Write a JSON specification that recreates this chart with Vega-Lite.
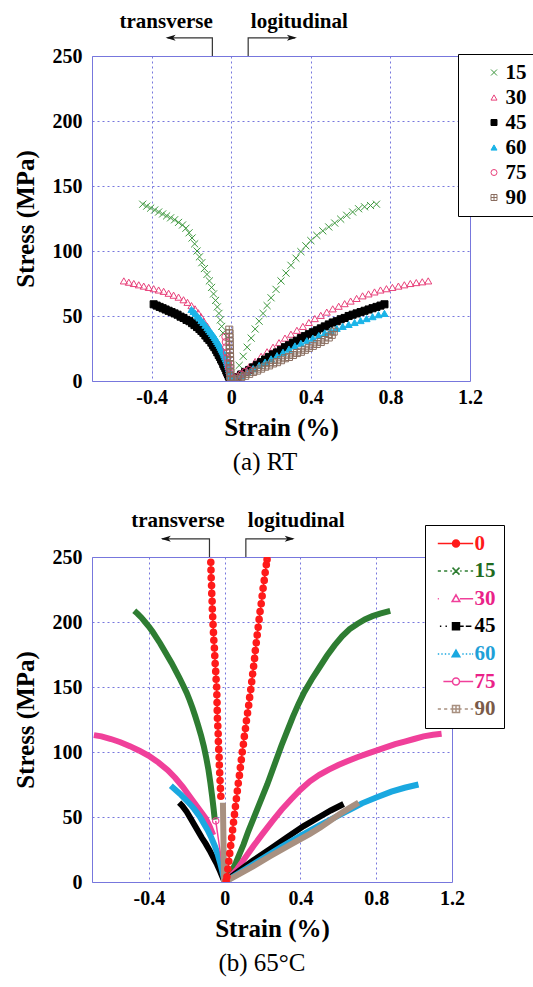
{
  "$schema": "https://vega.github.io/schema/vega-lite/v6.json",
  "background": "white",
  "padding": {"left": 12, "top": 10, "right": 0, "bottom": 0},
  "spacing": 33,
  "config": {
    "font": "Liberation Serif",
    "view": {"stroke": "#7777dd", "strokeWidth": 1},
    "axis": {
      "labelFont": "Liberation Serif", "labelFontWeight": "bold", "labelFontSize": 20, "labelColor": "black",
      "titleFont": "Liberation Serif", "titleFontWeight": "bold", "titleFontSize": 25, "titleColor": "black",
      "domain": false, "ticks": false, "grid": true, "gridColor": "#7777dd", "gridDash": [2, 3], "gridWidth": 1, "gridOpacity": 1,
      "labelFlush": false, "labelOverlap": false
    },
    "title": {"font": "Liberation Serif", "fontWeight": "normal", "fontSize": 25, "color": "black"}
  },
  "datasets": {
    "rt": [
      {"s":"15","b":"t","x":-0.445,"y":136},{"s":"15","b":"t","x":-0.425,"y":134.5},{"s":"15","b":"t","x":-0.405,"y":133},{"s":"15","b":"t","x":-0.385,"y":131.5},{"s":"15","b":"t","x":-0.365,"y":130},{"s":"15","b":"t","x":-0.345,"y":128.5},{"s":"15","b":"t","x":-0.325,"y":127},{"s":"15","b":"t","x":-0.305,"y":125.5},{"s":"15","b":"t","x":-0.285,"y":124},{"s":"15","b":"t","x":-0.265,"y":122},{"s":"15","b":"t","x":-0.245,"y":120},{"s":"15","b":"t","x":-0.228,"y":117.5},{"s":"15","b":"t","x":-0.212,"y":114},{"s":"15","b":"t","x":-0.197,"y":110},{"s":"15","b":"t","x":-0.184,"y":105.5},{"s":"15","b":"t","x":-0.172,"y":100},{"s":"15","b":"t","x":-0.16,"y":95.5},{"s":"15","b":"t","x":-0.148,"y":91},{"s":"15","b":"t","x":-0.135,"y":86.5},{"s":"15","b":"t","x":-0.122,"y":82},{"s":"15","b":"t","x":-0.11,"y":77},{"s":"15","b":"t","x":-0.099,"y":72},{"s":"15","b":"t","x":-0.089,"y":67},{"s":"15","b":"t","x":-0.079,"y":62},{"s":"15","b":"t","x":-0.07,"y":57},{"s":"15","b":"t","x":-0.062,"y":52},{"s":"15","b":"t","x":-0.055,"y":47},{"s":"15","b":"t","x":-0.048,"y":42},{"s":"15","b":"t","x":-0.042,"y":37},
      {"s":"15","b":"l","x":0.02,"y":5},{"s":"15","b":"l","x":0.04,"y":12},{"s":"15","b":"l","x":0.06,"y":19},{"s":"15","b":"l","x":0.08,"y":26},{"s":"15","b":"l","x":0.1,"y":33},{"s":"15","b":"l","x":0.12,"y":40},{"s":"15","b":"l","x":0.14,"y":46},{"s":"15","b":"l","x":0.16,"y":52},{"s":"15","b":"l","x":0.18,"y":58},{"s":"15","b":"l","x":0.2,"y":64},{"s":"15","b":"l","x":0.225,"y":70.5},{"s":"15","b":"l","x":0.25,"y":77},{"s":"15","b":"l","x":0.275,"y":83},{"s":"15","b":"l","x":0.3,"y":89},{"s":"15","b":"l","x":0.325,"y":94.5},{"s":"15","b":"l","x":0.35,"y":99.5},{"s":"15","b":"l","x":0.375,"y":104},{"s":"15","b":"l","x":0.4,"y":108},{"s":"15","b":"l","x":0.43,"y":112},{"s":"15","b":"l","x":0.46,"y":115.5},{"s":"15","b":"l","x":0.49,"y":118.5},{"s":"15","b":"l","x":0.52,"y":121.5},{"s":"15","b":"l","x":0.55,"y":124.5},{"s":"15","b":"l","x":0.58,"y":127.5},{"s":"15","b":"l","x":0.61,"y":130},{"s":"15","b":"l","x":0.64,"y":132.5},{"s":"15","b":"l","x":0.67,"y":134},{"s":"15","b":"l","x":0.7,"y":135},{"s":"15","b":"l","x":0.73,"y":136},
      {"s":"30","b":"t","x":-0.54,"y":77},{"s":"30","b":"t","x":-0.515,"y":76},{"s":"30","b":"t","x":-0.49,"y":75},{"s":"30","b":"t","x":-0.465,"y":74},{"s":"30","b":"t","x":-0.44,"y":73},{"s":"30","b":"t","x":-0.415,"y":72},{"s":"30","b":"t","x":-0.39,"y":71},{"s":"30","b":"t","x":-0.365,"y":70},{"s":"30","b":"t","x":-0.34,"y":69},{"s":"30","b":"t","x":-0.315,"y":67.5},{"s":"30","b":"t","x":-0.29,"y":66},{"s":"30","b":"t","x":-0.265,"y":64.5},{"s":"30","b":"t","x":-0.24,"y":62.5},{"s":"30","b":"t","x":-0.22,"y":60.5},{"s":"30","b":"t","x":-0.2,"y":58},{"s":"30","b":"t","x":-0.182,"y":55.5},{"s":"30","b":"t","x":-0.166,"y":52.5},{"s":"30","b":"t","x":-0.152,"y":49.5},{"s":"30","b":"t","x":-0.138,"y":46},{"s":"30","b":"t","x":-0.12,"y":42},{"s":"30","b":"t","x":-0.1,"y":36},{"s":"30","b":"t","x":-0.08,"y":29},{"s":"30","b":"t","x":-0.06,"y":22},{"s":"30","b":"t","x":-0.04,"y":14},{"s":"30","b":"t","x":-0.02,"y":6},
      {"s":"30","b":"l","x":0.03,"y":3},{"s":"30","b":"l","x":0.06,"y":7},{"s":"30","b":"l","x":0.09,"y":11},{"s":"30","b":"l","x":0.12,"y":15},{"s":"30","b":"l","x":0.15,"y":19},{"s":"30","b":"l","x":0.18,"y":22.5},{"s":"30","b":"l","x":0.21,"y":26},{"s":"30","b":"l","x":0.24,"y":29.5},{"s":"30","b":"l","x":0.27,"y":33},{"s":"30","b":"l","x":0.3,"y":36},{"s":"30","b":"l","x":0.33,"y":39},{"s":"30","b":"l","x":0.36,"y":42},{"s":"30","b":"l","x":0.39,"y":45},{"s":"30","b":"l","x":0.42,"y":48},{"s":"30","b":"l","x":0.45,"y":50.5},{"s":"30","b":"l","x":0.48,"y":53},{"s":"30","b":"l","x":0.51,"y":55.5},{"s":"30","b":"l","x":0.54,"y":57.5},{"s":"30","b":"l","x":0.57,"y":59.5},{"s":"30","b":"l","x":0.6,"y":61.5},{"s":"30","b":"l","x":0.63,"y":63.5},{"s":"30","b":"l","x":0.66,"y":65.5},{"s":"30","b":"l","x":0.69,"y":67},{"s":"30","b":"l","x":0.72,"y":68.5},{"s":"30","b":"l","x":0.75,"y":70},{"s":"30","b":"l","x":0.78,"y":71},{"s":"30","b":"l","x":0.81,"y":72},{"s":"30","b":"l","x":0.84,"y":73},{"s":"30","b":"l","x":0.87,"y":74},{"s":"30","b":"l","x":0.9,"y":75},{"s":"30","b":"l","x":0.93,"y":75.7},{"s":"30","b":"l","x":0.96,"y":76.3},{"s":"30","b":"l","x":0.99,"y":77},
      {"s":"45","b":"t","x":-0.39,"y":59},{"s":"45","b":"t","x":-0.375,"y":58},{"s":"45","b":"t","x":-0.36,"y":57},{"s":"45","b":"t","x":-0.345,"y":56},{"s":"45","b":"t","x":-0.33,"y":55},{"s":"45","b":"t","x":-0.315,"y":54},{"s":"45","b":"t","x":-0.3,"y":53},{"s":"45","b":"t","x":-0.285,"y":52},{"s":"45","b":"t","x":-0.27,"y":51},{"s":"45","b":"t","x":-0.255,"y":49.5},{"s":"45","b":"t","x":-0.24,"y":48.5},{"s":"45","b":"t","x":-0.225,"y":47},{"s":"45","b":"t","x":-0.21,"y":46},{"s":"45","b":"t","x":-0.197,"y":44.5},{"s":"45","b":"t","x":-0.185,"y":43},{"s":"45","b":"t","x":-0.172,"y":41.5},{"s":"45","b":"t","x":-0.16,"y":40},{"s":"45","b":"t","x":-0.15,"y":38.5},{"s":"45","b":"t","x":-0.14,"y":37},{"s":"45","b":"t","x":-0.13,"y":35},{"s":"45","b":"t","x":-0.12,"y":33},{"s":"45","b":"t","x":-0.11,"y":31.5},{"s":"45","b":"t","x":-0.1,"y":29.5},{"s":"45","b":"t","x":-0.092,"y":27.5},{"s":"45","b":"t","x":-0.085,"y":26},{"s":"45","b":"t","x":-0.077,"y":24},{"s":"45","b":"t","x":-0.07,"y":22},{"s":"45","b":"t","x":-0.063,"y":20},{"s":"45","b":"t","x":-0.057,"y":18.5},{"s":"45","b":"t","x":-0.051,"y":16.5},{"s":"45","b":"t","x":-0.045,"y":15},{"s":"45","b":"t","x":-0.04,"y":13},{"s":"45","b":"t","x":-0.035,"y":11.5},{"s":"45","b":"t","x":-0.03,"y":10},{"s":"45","b":"t","x":-0.025,"y":8},{"s":"45","b":"t","x":-0.02,"y":6.5},{"s":"45","b":"t","x":-0.016,"y":5},{"s":"45","b":"t","x":-0.012,"y":3.5},{"s":"45","b":"t","x":-0.008,"y":2},{"s":"45","b":"t","x":-0.004,"y":1},
      {"s":"45","b":"l","x":0.01,"y":1},{"s":"45","b":"l","x":0.03,"y":3},{"s":"45","b":"l","x":0.05,"y":5},{"s":"45","b":"l","x":0.07,"y":7},{"s":"45","b":"l","x":0.09,"y":8.5},{"s":"45","b":"l","x":0.11,"y":10.5},{"s":"45","b":"l","x":0.13,"y":12.5},{"s":"45","b":"l","x":0.15,"y":14.5},{"s":"45","b":"l","x":0.17,"y":16.5},{"s":"45","b":"l","x":0.19,"y":18.5},{"s":"45","b":"l","x":0.21,"y":20.5},{"s":"45","b":"l","x":0.23,"y":22},{"s":"45","b":"l","x":0.25,"y":24},{"s":"45","b":"l","x":0.27,"y":26},{"s":"45","b":"l","x":0.29,"y":27.5},{"s":"45","b":"l","x":0.31,"y":29.5},{"s":"45","b":"l","x":0.33,"y":31},{"s":"45","b":"l","x":0.35,"y":33},{"s":"45","b":"l","x":0.37,"y":34.5},{"s":"45","b":"l","x":0.39,"y":36},{"s":"45","b":"l","x":0.41,"y":37.5},{"s":"45","b":"l","x":0.43,"y":39},{"s":"45","b":"l","x":0.45,"y":40.5},{"s":"45","b":"l","x":0.47,"y":42},{"s":"45","b":"l","x":0.49,"y":43.5},{"s":"45","b":"l","x":0.51,"y":45},{"s":"45","b":"l","x":0.53,"y":46},{"s":"45","b":"l","x":0.55,"y":47.5},{"s":"45","b":"l","x":0.57,"y":48.5},{"s":"45","b":"l","x":0.59,"y":50},{"s":"45","b":"l","x":0.61,"y":51},{"s":"45","b":"l","x":0.63,"y":52},{"s":"45","b":"l","x":0.65,"y":53},{"s":"45","b":"l","x":0.67,"y":54},{"s":"45","b":"l","x":0.69,"y":55},{"s":"45","b":"l","x":0.71,"y":56},{"s":"45","b":"l","x":0.73,"y":57},{"s":"45","b":"l","x":0.75,"y":58},{"s":"45","b":"l","x":0.77,"y":59},
      {"s":"60","b":"t","x":-0.2,"y":55},{"s":"60","b":"t","x":-0.19,"y":53.5},{"s":"60","b":"t","x":-0.18,"y":52},{"s":"60","b":"t","x":-0.17,"y":50},{"s":"60","b":"t","x":-0.16,"y":48.5},{"s":"60","b":"t","x":-0.15,"y":46.5},{"s":"60","b":"t","x":-0.14,"y":45},{"s":"60","b":"t","x":-0.13,"y":43},{"s":"60","b":"t","x":-0.12,"y":41},{"s":"60","b":"t","x":-0.112,"y":39.5},{"s":"60","b":"t","x":-0.105,"y":38},{"s":"60","b":"t","x":-0.097,"y":36.5},{"s":"60","b":"t","x":-0.09,"y":35},{"s":"60","b":"t","x":-0.083,"y":33.5},{"s":"60","b":"t","x":-0.077,"y":32},{"s":"60","b":"t","x":-0.071,"y":30.5},{"s":"60","b":"t","x":-0.065,"y":29},{"s":"60","b":"t","x":-0.059,"y":27.5},{"s":"60","b":"t","x":-0.054,"y":26},{"s":"60","b":"t","x":-0.049,"y":24.5},{"s":"60","b":"t","x":-0.044,"y":23},{"s":"60","b":"t","x":-0.039,"y":21.5},{"s":"60","b":"t","x":-0.035,"y":20},{"s":"60","b":"t","x":-0.031,"y":18.5},{"s":"60","b":"t","x":-0.027,"y":17},{"s":"60","b":"t","x":-0.023,"y":15.5},{"s":"60","b":"t","x":-0.02,"y":14},{"s":"60","b":"t","x":-0.017,"y":12.5},{"s":"60","b":"t","x":-0.014,"y":11},{"s":"60","b":"t","x":-0.011,"y":9.5},{"s":"60","b":"t","x":-0.009,"y":8},{"s":"60","b":"t","x":-0.007,"y":6.5},{"s":"60","b":"t","x":-0.005,"y":5},{"s":"60","b":"t","x":-0.003,"y":3.5},{"s":"60","b":"t","x":-0.002,"y":2},
      {"s":"60","b":"l","x":0.02,"y":2},{"s":"60","b":"l","x":0.05,"y":4.5},{"s":"60","b":"l","x":0.08,"y":7},{"s":"60","b":"l","x":0.11,"y":9.5},{"s":"60","b":"l","x":0.14,"y":12},{"s":"60","b":"l","x":0.17,"y":14.5},{"s":"60","b":"l","x":0.2,"y":17},{"s":"60","b":"l","x":0.23,"y":19.5},{"s":"60","b":"l","x":0.26,"y":22},{"s":"60","b":"l","x":0.29,"y":24.5},{"s":"60","b":"l","x":0.32,"y":27},{"s":"60","b":"l","x":0.35,"y":29},{"s":"60","b":"l","x":0.38,"y":31},{"s":"60","b":"l","x":0.41,"y":33},{"s":"60","b":"l","x":0.44,"y":35},{"s":"60","b":"l","x":0.47,"y":37},{"s":"60","b":"l","x":0.5,"y":39},{"s":"60","b":"l","x":0.53,"y":40.5},{"s":"60","b":"l","x":0.56,"y":42},{"s":"60","b":"l","x":0.59,"y":43.5},{"s":"60","b":"l","x":0.62,"y":45},{"s":"60","b":"l","x":0.65,"y":46.5},{"s":"60","b":"l","x":0.68,"y":48},{"s":"60","b":"l","x":0.71,"y":49.5},{"s":"60","b":"l","x":0.74,"y":51},{"s":"60","b":"l","x":0.77,"y":52},
      {"s":"75","b":"t","x":-0.004,"y":2},{"s":"75","b":"t","x":-0.008,"y":6},{"s":"75","b":"t","x":-0.012,"y":10},{"s":"75","b":"t","x":-0.016,"y":14},{"s":"75","b":"t","x":-0.02,"y":18},{"s":"75","b":"t","x":-0.023,"y":22},{"s":"75","b":"t","x":-0.026,"y":26},{"s":"75","b":"t","x":-0.028,"y":30},{"s":"75","b":"t","x":-0.03,"y":34},
      {"s":"75","b":"l","x":0.01,"y":1},{"s":"75","b":"l","x":0.03,"y":3},{"s":"75","b":"l","x":0.05,"y":5},{"s":"75","b":"l","x":0.07,"y":7},{"s":"75","b":"l","x":0.09,"y":8.5},
      {"s":"90","b":"t","x":-0.003,"y":0.5},{"s":"90","b":"t","x":-0.004,"y":3.5},{"s":"90","b":"t","x":-0.004,"y":6.5},{"s":"90","b":"t","x":-0.005,"y":9.5},{"s":"90","b":"t","x":-0.005,"y":12.5},{"s":"90","b":"t","x":-0.006,"y":15.5},{"s":"90","b":"t","x":-0.006,"y":18.5},{"s":"90","b":"t","x":-0.007,"y":21.5},{"s":"90","b":"t","x":-0.007,"y":24.5},{"s":"90","b":"t","x":-0.008,"y":27.5},{"s":"90","b":"t","x":-0.008,"y":30.5},{"s":"90","b":"t","x":-0.009,"y":33.5},{"s":"90","b":"t","x":-0.009,"y":36.5},{"s":"90","b":"t","x":-0.01,"y":39.5},
      {"s":"90","b":"l","x":0.01,"y":0.5},{"s":"90","b":"l","x":0.03,"y":1.5},{"s":"90","b":"l","x":0.05,"y":3},{"s":"90","b":"l","x":0.07,"y":4},{"s":"90","b":"l","x":0.09,"y":5.5},{"s":"90","b":"l","x":0.11,"y":7},{"s":"90","b":"l","x":0.13,"y":8},{"s":"90","b":"l","x":0.15,"y":9.5},{"s":"90","b":"l","x":0.17,"y":11},{"s":"90","b":"l","x":0.19,"y":12},{"s":"90","b":"l","x":0.21,"y":13.5},{"s":"90","b":"l","x":0.23,"y":14.5},{"s":"90","b":"l","x":0.25,"y":16},{"s":"90","b":"l","x":0.27,"y":17.5},{"s":"90","b":"l","x":0.29,"y":18.5},{"s":"90","b":"l","x":0.31,"y":20},{"s":"90","b":"l","x":0.33,"y":21.5},{"s":"90","b":"l","x":0.35,"y":22.5},{"s":"90","b":"l","x":0.37,"y":24},{"s":"90","b":"l","x":0.39,"y":25.5},{"s":"90","b":"l","x":0.41,"y":27},{"s":"90","b":"l","x":0.43,"y":28.5},{"s":"90","b":"l","x":0.45,"y":30},{"s":"90","b":"l","x":0.47,"y":31.5},{"s":"90","b":"l","x":0.49,"y":33.5},{"s":"90","b":"l","x":0.505,"y":35.5},{"s":"90","b":"l","x":0.515,"y":38}
    ],
    "hot": [
      {"s":"0","b":"t","x":-0.02,"y":66},{"s":"0","b":"t","x":-0.022,"y":72},{"s":"0","b":"t","x":-0.024,"y":78},{"s":"0","b":"t","x":-0.026,"y":84},{"s":"0","b":"t","x":-0.028,"y":90},{"s":"0","b":"t","x":-0.029,"y":96},{"s":"0","b":"t","x":-0.031,"y":102},{"s":"0","b":"t","x":-0.033,"y":108},{"s":"0","b":"t","x":-0.034,"y":114},{"s":"0","b":"t","x":-0.036,"y":120},{"s":"0","b":"t","x":-0.038,"y":126},{"s":"0","b":"t","x":-0.039,"y":132},{"s":"0","b":"t","x":-0.04,"y":138},{"s":"0","b":"t","x":-0.041,"y":144},{"s":"0","b":"t","x":-0.042,"y":150},{"s":"0","b":"t","x":-0.045,"y":156},{"s":"0","b":"t","x":-0.047,"y":162},{"s":"0","b":"t","x":-0.05,"y":168},{"s":"0","b":"t","x":-0.052,"y":174},{"s":"0","b":"t","x":-0.054,"y":180},{"s":"0","b":"t","x":-0.057,"y":186},{"s":"0","b":"t","x":-0.059,"y":192},{"s":"0","b":"t","x":-0.061,"y":198},{"s":"0","b":"t","x":-0.063,"y":204},{"s":"0","b":"t","x":-0.065,"y":210},{"s":"0","b":"t","x":-0.066,"y":216},{"s":"0","b":"t","x":-0.068,"y":222},{"s":"0","b":"t","x":-0.069,"y":228},{"s":"0","b":"t","x":-0.071,"y":234},{"s":"0","b":"t","x":-0.072,"y":240},{"s":"0","b":"t","x":-0.073,"y":246},
      {"s":"0","b":"l","x":0.008,"y":1},{"s":"0","b":"l","x":0.012,"y":4},{"s":"0","b":"l","x":0.017,"y":10},{"s":"0","b":"l","x":0.022,"y":16},{"s":"0","b":"l","x":0.027,"y":22},{"s":"0","b":"l","x":0.032,"y":28},{"s":"0","b":"l","x":0.037,"y":34},{"s":"0","b":"l","x":0.042,"y":40},{"s":"0","b":"l","x":0.047,"y":46},{"s":"0","b":"l","x":0.052,"y":52},{"s":"0","b":"l","x":0.057,"y":58},{"s":"0","b":"l","x":0.062,"y":64},{"s":"0","b":"l","x":0.067,"y":70},{"s":"0","b":"l","x":0.072,"y":76},{"s":"0","b":"l","x":0.078,"y":82},{"s":"0","b":"l","x":0.083,"y":88},{"s":"0","b":"l","x":0.088,"y":94},{"s":"0","b":"l","x":0.093,"y":100},{"s":"0","b":"l","x":0.099,"y":106},{"s":"0","b":"l","x":0.104,"y":112},{"s":"0","b":"l","x":0.11,"y":118},{"s":"0","b":"l","x":0.115,"y":124},{"s":"0","b":"l","x":0.121,"y":130},{"s":"0","b":"l","x":0.127,"y":136},{"s":"0","b":"l","x":0.132,"y":142},{"s":"0","b":"l","x":0.138,"y":148},{"s":"0","b":"l","x":0.143,"y":154},{"s":"0","b":"l","x":0.148,"y":160},{"s":"0","b":"l","x":0.153,"y":166},{"s":"0","b":"l","x":0.158,"y":172},{"s":"0","b":"l","x":0.162,"y":178},{"s":"0","b":"l","x":0.167,"y":184},{"s":"0","b":"l","x":0.172,"y":190},{"s":"0","b":"l","x":0.177,"y":196},{"s":"0","b":"l","x":0.182,"y":202},{"s":"0","b":"l","x":0.187,"y":208},{"s":"0","b":"l","x":0.193,"y":214},{"s":"0","b":"l","x":0.198,"y":220},{"s":"0","b":"l","x":0.203,"y":226},{"s":"0","b":"l","x":0.209,"y":232},{"s":"0","b":"l","x":0.214,"y":238},{"s":"0","b":"l","x":0.22,"y":244},{"s":"0","b":"l","x":0.224,"y":248},
      {"s":"15","b":"t","x":-0.477,"y":208.7},{"s":"15","b":"t","x":-0.46,"y":206.5},{"s":"15","b":"t","x":-0.44,"y":203.5},{"s":"15","b":"t","x":-0.42,"y":200},{"s":"15","b":"t","x":-0.4,"y":196.5},{"s":"15","b":"t","x":-0.38,"y":192.5},{"s":"15","b":"t","x":-0.36,"y":188},{"s":"15","b":"t","x":-0.34,"y":183.5},{"s":"15","b":"t","x":-0.32,"y":178.5},{"s":"15","b":"t","x":-0.3,"y":173.5},{"s":"15","b":"t","x":-0.28,"y":168.5},{"s":"15","b":"t","x":-0.26,"y":163},{"s":"15","b":"t","x":-0.24,"y":157.5},{"s":"15","b":"t","x":-0.22,"y":151.5},{"s":"15","b":"t","x":-0.2,"y":145.5},{"s":"15","b":"t","x":-0.185,"y":140},{"s":"15","b":"t","x":-0.17,"y":134},{"s":"15","b":"t","x":-0.155,"y":127.5},{"s":"15","b":"t","x":-0.14,"y":120.5},{"s":"15","b":"t","x":-0.125,"y":113},{"s":"15","b":"t","x":-0.11,"y":104.5},{"s":"15","b":"t","x":-0.097,"y":95.5},{"s":"15","b":"t","x":-0.085,"y":86},{"s":"15","b":"t","x":-0.075,"y":76},{"s":"15","b":"t","x":-0.066,"y":66},{"s":"15","b":"t","x":-0.058,"y":56},{"s":"15","b":"t","x":-0.052,"y":48},
      {"s":"15","b":"l","x":0.005,"y":0},{"s":"15","b":"l","x":0.02,"y":4},{"s":"15","b":"l","x":0.04,"y":9},{"s":"15","b":"l","x":0.06,"y":15},{"s":"15","b":"l","x":0.08,"y":22},{"s":"15","b":"l","x":0.1,"y":29},{"s":"15","b":"l","x":0.125,"y":39},{"s":"15","b":"l","x":0.15,"y":48},{"s":"15","b":"l","x":0.175,"y":57},{"s":"15","b":"l","x":0.2,"y":66},{"s":"15","b":"l","x":0.225,"y":75},{"s":"15","b":"l","x":0.25,"y":85},{"s":"15","b":"l","x":0.275,"y":95},{"s":"15","b":"l","x":0.3,"y":105},{"s":"15","b":"l","x":0.33,"y":116},{"s":"15","b":"l","x":0.36,"y":127},{"s":"15","b":"l","x":0.39,"y":137},{"s":"15","b":"l","x":0.42,"y":146},{"s":"15","b":"l","x":0.46,"y":156},{"s":"15","b":"l","x":0.5,"y":165},{"s":"15","b":"l","x":0.54,"y":174},{"s":"15","b":"l","x":0.58,"y":182},{"s":"15","b":"l","x":0.62,"y":189},{"s":"15","b":"l","x":0.66,"y":194.5},{"s":"15","b":"l","x":0.7,"y":198.5},{"s":"15","b":"l","x":0.74,"y":202},{"s":"15","b":"l","x":0.78,"y":204.5},{"s":"15","b":"l","x":0.82,"y":206.5},{"s":"15","b":"l","x":0.874,"y":208.5},
      {"s":"30","b":"t","x":-0.69,"y":113},{"s":"30","b":"t","x":-0.65,"y":112},{"s":"30","b":"t","x":-0.6,"y":110},{"s":"30","b":"t","x":-0.55,"y":107.5},{"s":"30","b":"t","x":-0.5,"y":104.5},{"s":"30","b":"t","x":-0.45,"y":101},{"s":"30","b":"t","x":-0.4,"y":97},{"s":"30","b":"t","x":-0.35,"y":92},{"s":"30","b":"t","x":-0.3,"y":86},{"s":"30","b":"t","x":-0.26,"y":80},{"s":"30","b":"t","x":-0.22,"y":73},{"s":"30","b":"t","x":-0.19,"y":67},{"s":"30","b":"t","x":-0.16,"y":61},{"s":"30","b":"t","x":-0.13,"y":55},{"s":"30","b":"t","x":-0.1,"y":49},{"s":"30","b":"t","x":-0.08,"y":43},{"s":"30","b":"t","x":-0.06,"y":36},
      {"s":"30","b":"l","x":0,"y":0},{"s":"30","b":"l","x":0.03,"y":4},{"s":"30","b":"l","x":0.067,"y":10},{"s":"30","b":"l","x":0.1,"y":17},{"s":"30","b":"l","x":0.154,"y":28},{"s":"30","b":"l","x":0.2,"y":37},{"s":"30","b":"l","x":0.25,"y":46.5},{"s":"30","b":"l","x":0.3,"y":55.5},{"s":"30","b":"l","x":0.35,"y":63.5},{"s":"30","b":"l","x":0.4,"y":71},{"s":"30","b":"l","x":0.45,"y":77.5},{"s":"30","b":"l","x":0.5,"y":82.5},{"s":"30","b":"l","x":0.55,"y":86.5},{"s":"30","b":"l","x":0.6,"y":90},{"s":"30","b":"l","x":0.65,"y":93},{"s":"30","b":"l","x":0.7,"y":96},{"s":"30","b":"l","x":0.75,"y":98.5},{"s":"30","b":"l","x":0.8,"y":101},{"s":"30","b":"l","x":0.85,"y":103.5},{"s":"30","b":"l","x":0.9,"y":106},{"s":"30","b":"l","x":0.95,"y":108},{"s":"30","b":"l","x":1.0,"y":110},{"s":"30","b":"l","x":1.05,"y":112},{"s":"30","b":"l","x":1.1,"y":113.2},{"s":"30","b":"l","x":1.145,"y":114},
      {"s":"45","b":"t","x":-0.24,"y":61},{"s":"45","b":"t","x":-0.223,"y":58.5},{"s":"45","b":"t","x":-0.2,"y":54},{"s":"45","b":"t","x":-0.18,"y":49},{"s":"45","b":"t","x":-0.16,"y":44},{"s":"45","b":"t","x":-0.14,"y":39},{"s":"45","b":"t","x":-0.12,"y":34},{"s":"45","b":"t","x":-0.1,"y":29.5},{"s":"45","b":"t","x":-0.08,"y":24.5},{"s":"45","b":"t","x":-0.06,"y":19},{"s":"45","b":"t","x":-0.04,"y":13.5},{"s":"45","b":"t","x":-0.025,"y":8.5},{"s":"45","b":"t","x":-0.012,"y":4},{"s":"45","b":"t","x":0,"y":0},
      {"s":"45","b":"l","x":0,"y":0},{"s":"45","b":"l","x":0.067,"y":7.5},{"s":"45","b":"l","x":0.15,"y":16.5},{"s":"45","b":"l","x":0.242,"y":25.5},{"s":"45","b":"l","x":0.33,"y":34.5},{"s":"45","b":"l","x":0.417,"y":43},{"s":"45","b":"l","x":0.5,"y":50},{"s":"45","b":"l","x":0.56,"y":55},{"s":"45","b":"l","x":0.628,"y":60},
      {"s":"60","b":"t","x":-0.284,"y":74},{"s":"60","b":"t","x":-0.26,"y":71},{"s":"60","b":"t","x":-0.23,"y":67},{"s":"60","b":"t","x":-0.2,"y":62.5},{"s":"60","b":"t","x":-0.18,"y":59.5},{"s":"60","b":"t","x":-0.16,"y":56},{"s":"60","b":"t","x":-0.13,"y":50},{"s":"60","b":"t","x":-0.11,"y":45},{"s":"60","b":"t","x":-0.09,"y":40},{"s":"60","b":"t","x":-0.07,"y":34},{"s":"60","b":"t","x":-0.05,"y":27},{"s":"60","b":"t","x":-0.038,"y":22},{"s":"60","b":"t","x":-0.025,"y":15.5},{"s":"60","b":"t","x":-0.012,"y":8},{"s":"60","b":"t","x":0,"y":0},
      {"s":"60","b":"l","x":0,"y":0},{"s":"60","b":"l","x":0.1,"y":9},{"s":"60","b":"l","x":0.2,"y":18},{"s":"60","b":"l","x":0.3,"y":27},{"s":"60","b":"l","x":0.4,"y":35.5},{"s":"60","b":"l","x":0.5,"y":43.5},{"s":"60","b":"l","x":0.6,"y":51},{"s":"60","b":"l","x":0.68,"y":57},{"s":"60","b":"l","x":0.725,"y":60.5},{"s":"60","b":"l","x":0.8,"y":65},{"s":"60","b":"l","x":0.88,"y":69.5},{"s":"60","b":"l","x":0.95,"y":72.5},{"s":"60","b":"l","x":1.023,"y":75},
      {"s":"75","b":"t","x":0,"y":0},{"s":"75","b":"t","x":-0.01,"y":10},{"s":"75","b":"t","x":-0.02,"y":20},{"s":"75","b":"t","x":-0.03,"y":30},{"s":"75","b":"t","x":-0.04,"y":40},{"s":"75","b":"t","x":-0.047,"y":47},
      {"s":"75","b":"l","x":0,"y":0},{"s":"75","b":"l","x":0.03,"y":3},{"s":"75","b":"l","x":0.06,"y":6},
      {"s":"90","b":"t","x":-0.003,"y":0},{"s":"90","b":"t","x":-0.004,"y":10},{"s":"90","b":"t","x":-0.005,"y":20},{"s":"90","b":"t","x":-0.006,"y":30},{"s":"90","b":"t","x":-0.007,"y":40},{"s":"90","b":"t","x":-0.008,"y":50},{"s":"90","b":"t","x":-0.009,"y":61},
      {"s":"90","b":"l","x":0,"y":0},{"s":"90","b":"l","x":0.05,"y":4},{"s":"90","b":"l","x":0.15,"y":12},{"s":"90","b":"l","x":0.242,"y":20},{"s":"90","b":"l","x":0.35,"y":29},{"s":"90","b":"l","x":0.45,"y":37},{"s":"90","b":"l","x":0.505,"y":42},{"s":"90","b":"l","x":0.56,"y":47.5},{"s":"90","b":"l","x":0.61,"y":52.5},{"s":"90","b":"l","x":0.66,"y":57},{"s":"90","b":"l","x":0.707,"y":61}
    ],
    "annLinesA": [
      {"id":"t","o":1,"x":-0.095,"y":250},{"id":"t","o":2,"x":-0.095,"y":264},{"id":"t","o":3,"x":-0.32,"y":264},
      {"id":"l","o":1,"x":0.085,"y":250},{"id":"l","o":2,"x":0.085,"y":264},{"id":"l","o":3,"x":0.32,"y":264}
    ],
    "annHeadsA": [{"d":"L","x":-0.33,"y":264},{"d":"R","x":0.33,"y":264}],
    "annTextA": [{"t":"transverse","x":-0.327,"y":276},{"t":"logitudinal","x":0.342,"y":276}],
    "annLinesB": [
      {"id":"t","o":1,"x":-0.08,"y":250},{"id":"t","o":2,"x":-0.08,"y":264},{"id":"t","o":3,"x":-0.33,"y":264},
      {"id":"l","o":1,"x":0.112,"y":250},{"id":"l","o":2,"x":0.112,"y":264},{"id":"l","o":3,"x":0.36,"y":264}
    ],
    "annHeadsB": [{"d":"L","x":-0.337,"y":264},{"d":"R","x":0.37,"y":264}],
    "annTextB": [{"t":"transverse","x":-0.247,"y":278},{"t":"logitudinal","x":0.378,"y":278}]
  },
  "resolve": {"scale": {"color": "independent", "shape": "independent", "fill": "independent"}, "legend": {"color": "independent", "shape": "independent"}},
  "vconcat": [
    {
      "width": 378, "height": 325,
      "title": {"text": "(a) RT", "orient": "bottom", "anchor": "middle", "frame": "group", "offset": 10, "dx": -16},
      "layer": [
        {
          "data": {"name": "rt"},
          "mark": {"type": "point", "filled": false, "size": 50, "strokeWidth": 1, "opacity": 1, "clip": true},
          "encoding": {
            "x": {"field": "x", "type": "quantitative", "scale": {"domain": [-0.7, 1.2], "nice": false, "zero": false},
                  "axis": {"values": [-0.4, 0, 0.4, 0.8, 1.2], "labelExpr": "'' + datum.value", "title": "Strain (%)", "labelPadding": 6, "titlePadding": 8}},
            "y": {"field": "y", "type": "quantitative", "scale": {"domain": [0, 250], "nice": false, "zero": false},
                  "axis": {"values": [0, 50, 100, 150, 200, 250], "title": "Stress (MPa)", "labelPadding": 10, "titlePadding": 14}},
            "color": {"field": "s", "type": "nominal",
                      "scale": {"domain": ["15","30","45","60","75","90"], "range": ["#3c963c","#e8407a","#000000","#1ab4e8","#e8407a","#8a6e60"]},
                      "legend": {"title": null, "orient": "none", "direction": "vertical", "legendX": 366, "legendY": -2,
                                 "padding": 8, "strokeColor": "black", "fillColor": "white",
                                 "symbolSize": 36, "symbolStrokeWidth": 1, "symbolOffset": 17.5, "labelOffset": 1,
                                 "labelFont": "Liberation Serif", "labelFontWeight": "bold", "labelFontSize": 21, "rowPadding": 3,
                                 "encode": {
                                   "labels": {"update": {
                                     "fill": {"signal": "datum.value=='15'?'#2a8a2a':datum.value=='30'?'#ea2270':datum.value=='45'?'#000000':datum.value=='60'?'#22aadd':datum.value=='75'?'#ea2280':'#6b4a3a'"}
                                   }}
                                 }}},
            "shape": {"field": "s", "type": "nominal",
                      "scale": {"domain": ["15","30","45","60","75","90"], "range": ["M-1,-1L1,1M-1,1L1,-1","triangle-up","square","triangle-up","circle","M-1,-1H1V1H-1ZM0,-1V1M-1,0H1"]},
                      "legend": {"title": null, "orient": "none", "direction": "vertical", "legendX": 366, "legendY": -2,
                                 "padding": 8, "strokeColor": "black", "fillColor": "white",
                                 "symbolSize": 36, "symbolStrokeWidth": 1, "symbolOffset": 17.5, "labelOffset": 1,
                                 "labelFont": "Liberation Serif", "labelFontWeight": "bold", "labelFontSize": 21, "rowPadding": 3,
                                 "encode": {
                                   "labels": {"update": {
                                     "fill": {"signal": "datum.value=='15'?'#2a8a2a':datum.value=='30'?'#ea2270':datum.value=='45'?'#000000':datum.value=='60'?'#22aadd':datum.value=='75'?'#ea2280':'#6b4a3a'"}
                                   }}
                                 }}},
            "fill": {"field": "s", "type": "nominal",
                     "scale": {"domain": ["15","30","45","60","75","90"], "range": ["transparent","transparent","#000000","#1ab4e8","transparent","transparent"]},
                     "legend": null}
          }
        },
        {
          "data": {"name": "annLinesA"},
          "mark": {"type": "line", "color": "#333333", "strokeWidth": 1.2, "clip": false},
          "encoding": {
            "x": {"field": "x", "type": "quantitative"},
            "y": {"field": "y", "type": "quantitative"},
            "detail": {"field": "id"},
            "order": {"field": "o", "type": "quantitative"}
          }
        },
        {
          "data": {"name": "annHeadsA"},
          "transform": [{"filter": "datum.d == 'L'"}],
          "mark": {"type": "point", "filled": true, "size": 100, "opacity": 1, "color": "#111111", "shape": "M0,0L2,-0.6L1.5,0L2,0.6Z", "clip": false},
          "encoding": {
            "x": {"field": "x", "type": "quantitative"},
            "y": {"field": "y", "type": "quantitative"}
          }
        },
        {
          "data": {"name": "annHeadsA"},
          "transform": [{"filter": "datum.d == 'R'"}],
          "mark": {"type": "point", "filled": true, "size": 100, "opacity": 1, "color": "#111111", "shape": "M0,0L-2,-0.6L-1.5,0L-2,0.6Z", "clip": false},
          "encoding": {
            "x": {"field": "x", "type": "quantitative"},
            "y": {"field": "y", "type": "quantitative"}
          }
        },
        {
          "data": {"name": "annTextA"},
          "mark": {"type": "text", "font": "Liberation Serif", "fontWeight": "bold", "fontSize": 21, "baseline": "middle", "align": "center", "color": "black", "clip": false},
          "encoding": {
            "x": {"field": "x", "type": "quantitative"},
            "y": {"field": "y", "type": "quantitative"},
            "text": {"field": "t"}
          }
        }
      ]
    },
    {
      "width": 360, "height": 325,
      "title": {"text": "(b) 65°C", "orient": "bottom", "anchor": "middle", "frame": "group", "offset": 10, "dx": -10},
      "layer": [
        {
          "data": {"name": "hot"},
          "transform": [{"filter": {"field": "s", "oneOf": ["15","30","45","60"]}}],
          "mark": {"type": "line", "strokeWidth": 6, "clip": true, "strokeCap": "butt"},
          "encoding": {
            "x": {"field": "x", "type": "quantitative", "scale": {"domain": [-0.7, 1.2], "nice": false, "zero": false},
                  "axis": {"values": [-0.4, 0, 0.4, 0.8, 1.2], "labelExpr": "'' + datum.value", "title": "Strain (%)", "labelPadding": 6, "titlePadding": 8}},
            "y": {"field": "y", "type": "quantitative", "scale": {"domain": [0, 250], "nice": false, "zero": false},
                  "axis": {"values": [0, 50, 100, 150, 200, 250], "title": "Stress (MPa)", "labelPadding": 10, "titlePadding": 14}},
            "color": {"field": "s", "type": "nominal",
                      "scale": {"domain": ["0","15","30","45","60","75","90"], "range": ["#ff1a1a","#2e7d32","#f0409a","#000000","#1aa8e0","#f0409a","#a89080"]},
                      "legend": {"title": null, "orient": "none", "direction": "vertical", "legendX": 333, "legendY": -32,
                                 "padding": 8, "strokeColor": "black", "fillColor": "white",
                                 "symbolSize": 49, "symbolStrokeWidth": 1.5, "symbolOffset": 12.5, "labelOffset": 8,
                                 "symbolFillColor": "white",
                                 "labelFont": "Liberation Serif", "labelFontWeight": "bold", "labelFontSize": 21, "rowPadding": 5.6,
                                 "encode": {
                                   "symbols": {"update": {
                                     "shape": {"signal": "datum.value=='0'?'M-5.2,0H-1M1,0H4.9M1,0A1,1 0 1,1 -1,0A1,1 0 1,1 1,0ZM0.6,0A0.6,0.6 0 1,1 -0.6,0A0.6,0.6 0 1,1 0.6,0ZM0.2,0A0.2,0.2 0 1,1 -0.2,0A0.2,0.2 0 1,1 0.2,0Z':datum.value=='15'?'M-5.2,0H-4.3M-3.4,0H-2.5M-1.6,0H-1.2M1.2,0H1.6M2.5,0H3.4M4.2,0H4.9M-1,-1L1,1M-1,1L1,-1':datum.value=='30'?'M-5.2,0H-4.9M1.1,0H4.9M0,-1.1L1.1,0.8H-1.1Z':datum.value=='45'?'M-4.6,0H-4.2M-3,0H-2.6M1,0H2.2M2.8,0H4.4M-1,-1H1V1H-1ZM-1,-0.6H1M-1,-0.2H1M-1,0.2H1M-1,0.6H1':datum.value=='60'?'M-5.2,0H-4.8M-4.2,0H-3.8M-3.2,0H-2.8M-2.2,0H-1.8M1.8,0H2.2M2.8,0H3.2M3.8,0H4.2M4.6,0H4.9M0,-1.1L1.1,0.8H-1.1ZM-0.8,0.4H0.8M-0.55,0H0.55M-0.3,-0.4H0.3':datum.value=='75'?'M-3.6,0H-1M1,0H4.9M1,0A1,1 0 1,1 -1,0A1,1 0 1,1 1,0Z':'M-5.2,0H-4.3M-3.4,0H-2.5M-1.6,0H-1.2M1.2,0H1.6M2.5,0H3.4M4.2,0H4.9M-1,-1H1V1H-1ZM0,-1V1M-1,0H1'"},
                                     "fill": {"value": "white"},
                                     "opacity": {"value": 1}
                                   }},
                                   "labels": {"update": {
                                     "fill": {"signal": "datum.value=='0'?'#ff1a1a':datum.value=='15'?'#1f6b1f':datum.value=='30'?'#ea2288':datum.value=='45'?'#000000':datum.value=='60'?'#1ea0d8':datum.value=='75'?'#ea2288':'#7a5a48'"}
                                   }}
                                 }}},
            "detail": {"field": "b"},
            "order": {"field": "y", "type": "quantitative"}
          }
        },
        {
          "data": {"name": "hot"},
          "transform": [{"filter": {"field": "s", "oneOf": ["75"]}}],
          "mark": {"type": "line", "strokeWidth": 1.5, "clip": true},
          "encoding": {
            "x": {"field": "x", "type": "quantitative"},
            "y": {"field": "y", "type": "quantitative"},
            "color": {"field": "s", "type": "nominal"},
            "detail": {"field": "b"},
            "order": {"field": "y", "type": "quantitative"}
          }
        },
        {
          "data": {"name": "hot"},
          "transform": [{"filter": "datum.s == '75' && datum.y >= 47"}],
          "mark": {"type": "point", "filled": false, "size": 40, "strokeWidth": 1.2, "opacity": 1, "clip": true},
          "encoding": {
            "x": {"field": "x", "type": "quantitative"},
            "y": {"field": "y", "type": "quantitative"},
            "color": {"field": "s", "type": "nominal"}
          }
        },
        {
          "data": {"name": "hot"},
          "transform": [{"filter": {"field": "s", "oneOf": ["90"]}}],
          "mark": {"type": "line", "strokeWidth": 6, "clip": true, "strokeCap": "butt"},
          "encoding": {
            "x": {"field": "x", "type": "quantitative"},
            "y": {"field": "y", "type": "quantitative"},
            "color": {"field": "s", "type": "nominal"},
            "detail": {"field": "b"},
            "order": {"field": "y", "type": "quantitative"}
          }
        },
        {
          "data": {"name": "hot"},
          "transform": [{"filter": {"field": "s", "oneOf": ["0"]}}],
          "mark": {"type": "line", "strokeWidth": 1.5, "clip": true},
          "encoding": {
            "x": {"field": "x", "type": "quantitative"},
            "y": {"field": "y", "type": "quantitative"},
            "color": {"field": "s", "type": "nominal"},
            "detail": {"field": "b"},
            "order": {"field": "y", "type": "quantitative"}
          }
        },
        {
          "data": {"name": "hot"},
          "transform": [{"filter": {"field": "s", "oneOf": ["0"]}}],
          "mark": {"type": "point", "filled": false, "shape": "circle", "size": 13, "strokeWidth": 4, "opacity": 1, "clip": true},
          "encoding": {
            "x": {"field": "x", "type": "quantitative"},
            "y": {"field": "y", "type": "quantitative"},
            "color": {"field": "s", "type": "nominal"}
          }
        },
        {
          "data": {"name": "annLinesB"},
          "mark": {"type": "line", "color": "#333333", "strokeWidth": 1.2, "clip": false},
          "encoding": {
            "x": {"field": "x", "type": "quantitative"},
            "y": {"field": "y", "type": "quantitative"},
            "detail": {"field": "id"},
            "order": {"field": "o", "type": "quantitative"}
          }
        },
        {
          "data": {"name": "annHeadsB"},
          "transform": [{"filter": "datum.d == 'L'"}],
          "mark": {"type": "point", "filled": true, "size": 100, "opacity": 1, "color": "#111111", "shape": "M0,0L2,-0.6L1.5,0L2,0.6Z", "clip": false},
          "encoding": {
            "x": {"field": "x", "type": "quantitative"},
            "y": {"field": "y", "type": "quantitative"}
          }
        },
        {
          "data": {"name": "annHeadsB"},
          "transform": [{"filter": "datum.d == 'R'"}],
          "mark": {"type": "point", "filled": true, "size": 100, "opacity": 1, "color": "#111111", "shape": "M0,0L-2,-0.6L-1.5,0L-2,0.6Z", "clip": false},
          "encoding": {
            "x": {"field": "x", "type": "quantitative"},
            "y": {"field": "y", "type": "quantitative"}
          }
        },
        {
          "data": {"name": "annTextB"},
          "mark": {"type": "text", "font": "Liberation Serif", "fontWeight": "bold", "fontSize": 21, "baseline": "middle", "align": "center", "color": "black", "clip": false},
          "encoding": {
            "x": {"field": "x", "type": "quantitative"},
            "y": {"field": "y", "type": "quantitative"},
            "text": {"field": "t"}
          }
        }
      ]
    }
  ]
}
